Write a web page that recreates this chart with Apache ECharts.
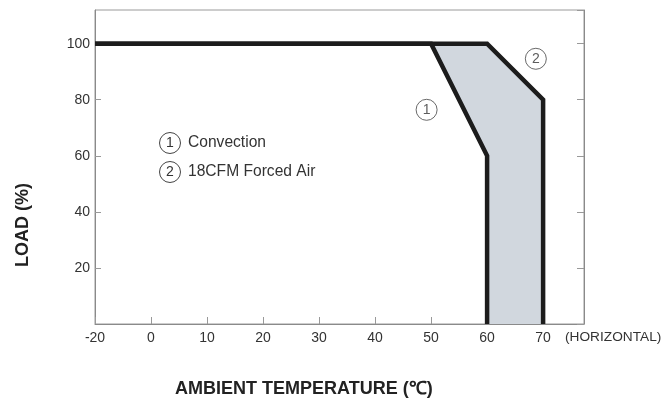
<!DOCTYPE html>
<html>
<head>
<meta charset="utf-8">
<script src="https://cdn.jsdelivr.net/npm/echarts@6/dist/echarts.min.js"></script>
<style>
  html, body { margin: 0; padding: 0; background: #fff; }
  #chart { width: 667px; height: 405px; }
</style>
</head>
<body>
<div id="chart"></div>
<script>
// derating curves (ambient temperature in C, load in %)
const convTemp = [-20, 50, 60, 60]
const convLoad = [100, 100, 60, 0]
const forcedTemp = [-20, 60, 70, 70]
const forcedLoad = [100, 100, 80, 0]
const xTicks = [-20, 0, 10, 20, 30, 40, 50, 60, 70]
const yTicks = [20, 40, 60, 80, 100]
// circled curve numbers placed next to the curves
const markTemp = [49.2, 68.7]
const markLoad = [76.4, 94.6]
const markText = ['1', '2']
const legendText = ['Convection', '18CFM Forced Air']

const FONT = '"Liberation Sans", Arial, sans-serif'

// the -20..0 part of the axis is drawn compressed (half scale)
function toAxis(t) {
  return t < 0 ? t / 2 : t
}
function fromAxis(v) {
  return v < 0 ? v * 2 : v
}
function pairs(xs, ys) {
  return xs.map(function(x, i) { return [toAxis(x), ys[i]] })
}

const convData = pairs(convTemp, convLoad)
const forcedData = pairs(forcedTemp, forcedLoad)
// band between the two curves
const bandData = forcedData.slice(1).concat(convData.slice(1).reverse())

const chart = echarts.init(document.getElementById('chart'), null, { renderer: 'canvas' })

const circleStyle = { fill: '#fff', stroke: '#444', lineWidth: 1 }
const legendItems = []
legendText.forEach(function(txt, i) {
  const cy = 143 + i * 29
  legendItems.push({ type: 'circle', shape: { cx: 170, cy: cy, r: 10.5 }, style: circleStyle })
  legendItems.push({
    type: 'text', x: 170, y: cy,
    style: { text: markText[i], fill: '#333', font: '14px ' + FONT, align: 'center', verticalAlign: 'middle' }
  })
  legendItems.push({
    type: 'text', x: 188, y: cy,
    style: { text: txt, fill: '#333', font: '15.6px ' + FONT, verticalAlign: 'middle' }
  })
})

const axisLineStyle = { color: '#8a8a8a', width: 1 }
const tickStyle = { color: '#999' }

chart.setOption({
  animation: false,
  grid: {
    left: 95, top: 10, right: 83, bottom: 81,
    show: true, borderColor: '#9a9a9a', borderWidth: 1
  },
  xAxis: [{
    type: 'value',
    min: toAxis(xTicks[0]),
    max: 77.3,
    interval: 10,
    splitLine: { show: false },
    axisLine: { onZero: false, lineStyle: axisLineStyle },
    axisTick: { inside: true, length: 7, lineStyle: tickStyle },
    axisLabel: {
      color: '#333', fontSize: 14, fontFamily: FONT, margin: 7,
      showMaxLabel: false,
      formatter: function(v) {
        const t = fromAxis(v)
        return xTicks.indexOf(t) >= 0 ? String(t) : ''
      }
    }
  }],
  yAxis: [{
    type: 'value',
    min: 0, max: 112, interval: 20,
    splitLine: { show: false },
    axisLine: { onZero: false, lineStyle: axisLineStyle },
    axisTick: { inside: true, length: 6, lineStyle: tickStyle },
    axisLabel: {
      color: '#333', fontSize: 14, fontFamily: FONT, margin: 5,
      showMinLabel: false, showMaxLabel: false,
      formatter: function(v) {
        return yTicks.indexOf(v) >= 0 ? String(v) : ''
      }
    }
  }, {
    type: 'value',
    position: 'right',
    min: 0, max: 112, interval: 20,
    splitLine: { show: false },
    axisLine: { show: true, onZero: false, lineStyle: axisLineStyle },
    axisTick: { inside: true, length: 7, lineStyle: tickStyle },
    axisLabel: { show: false }
  }],
  graphic: [
    {
      type: 'text', left: 175, top: 380,
      style: { text: 'AMBIENT TEMPERATURE (℃)', fill: '#222', font: 'bold 18px ' + FONT }
    },
    {
      type: 'text', x: 23, y: 225, rotation: Math.PI / 2,
      style: { text: 'LOAD (%)', fill: '#222', font: 'bold 18px ' + FONT, align: 'center', verticalAlign: 'middle' }
    },
    {
      type: 'text', left: 565, top: 330,
      style: { text: '(HORIZONTAL)', fill: '#333', font: '13.7px ' + FONT }
    },
    { type: 'group', children: legendItems }
  ],
  series: [
    {
      type: 'custom',
      name: 'band',
      z: 1,
      renderItem: function(params, api) {
        if (params.dataIndex > 0) return null
        const pts = bandData.map(function(p) { return api.coord(p) })
        return { type: 'polygon', shape: { points: pts }, style: { fill: '#d1d7de' } }
      },
      data: [0]
    },
    {
      type: 'line',
      name: 'Convection',
      z: 3,
      data: convData,
      showSymbol: false,
      lineStyle: { color: '#1c1c1c', width: 4.5, join: 'miter' }
    },
    {
      type: 'line',
      name: '18CFM Forced Air',
      z: 3,
      data: forcedData,
      showSymbol: false,
      lineStyle: { color: '#1c1c1c', width: 4.5, join: 'miter' }
    },
    {
      type: 'scatter',
      z: 4,
      symbol: 'circle',
      symbolSize: 21,
      itemStyle: { color: '#fff', borderColor: '#444', borderWidth: 1 },
      label: {
        show: true, position: 'inside', color: '#333', fontSize: 14, fontFamily: FONT,
        formatter: function(p) { return p.value[2] }
      },
      data: markTemp.map(function(t, i) { return [t, markLoad[i], markText[i]] })
    }
  ]
})
</script>
</body>
</html>
